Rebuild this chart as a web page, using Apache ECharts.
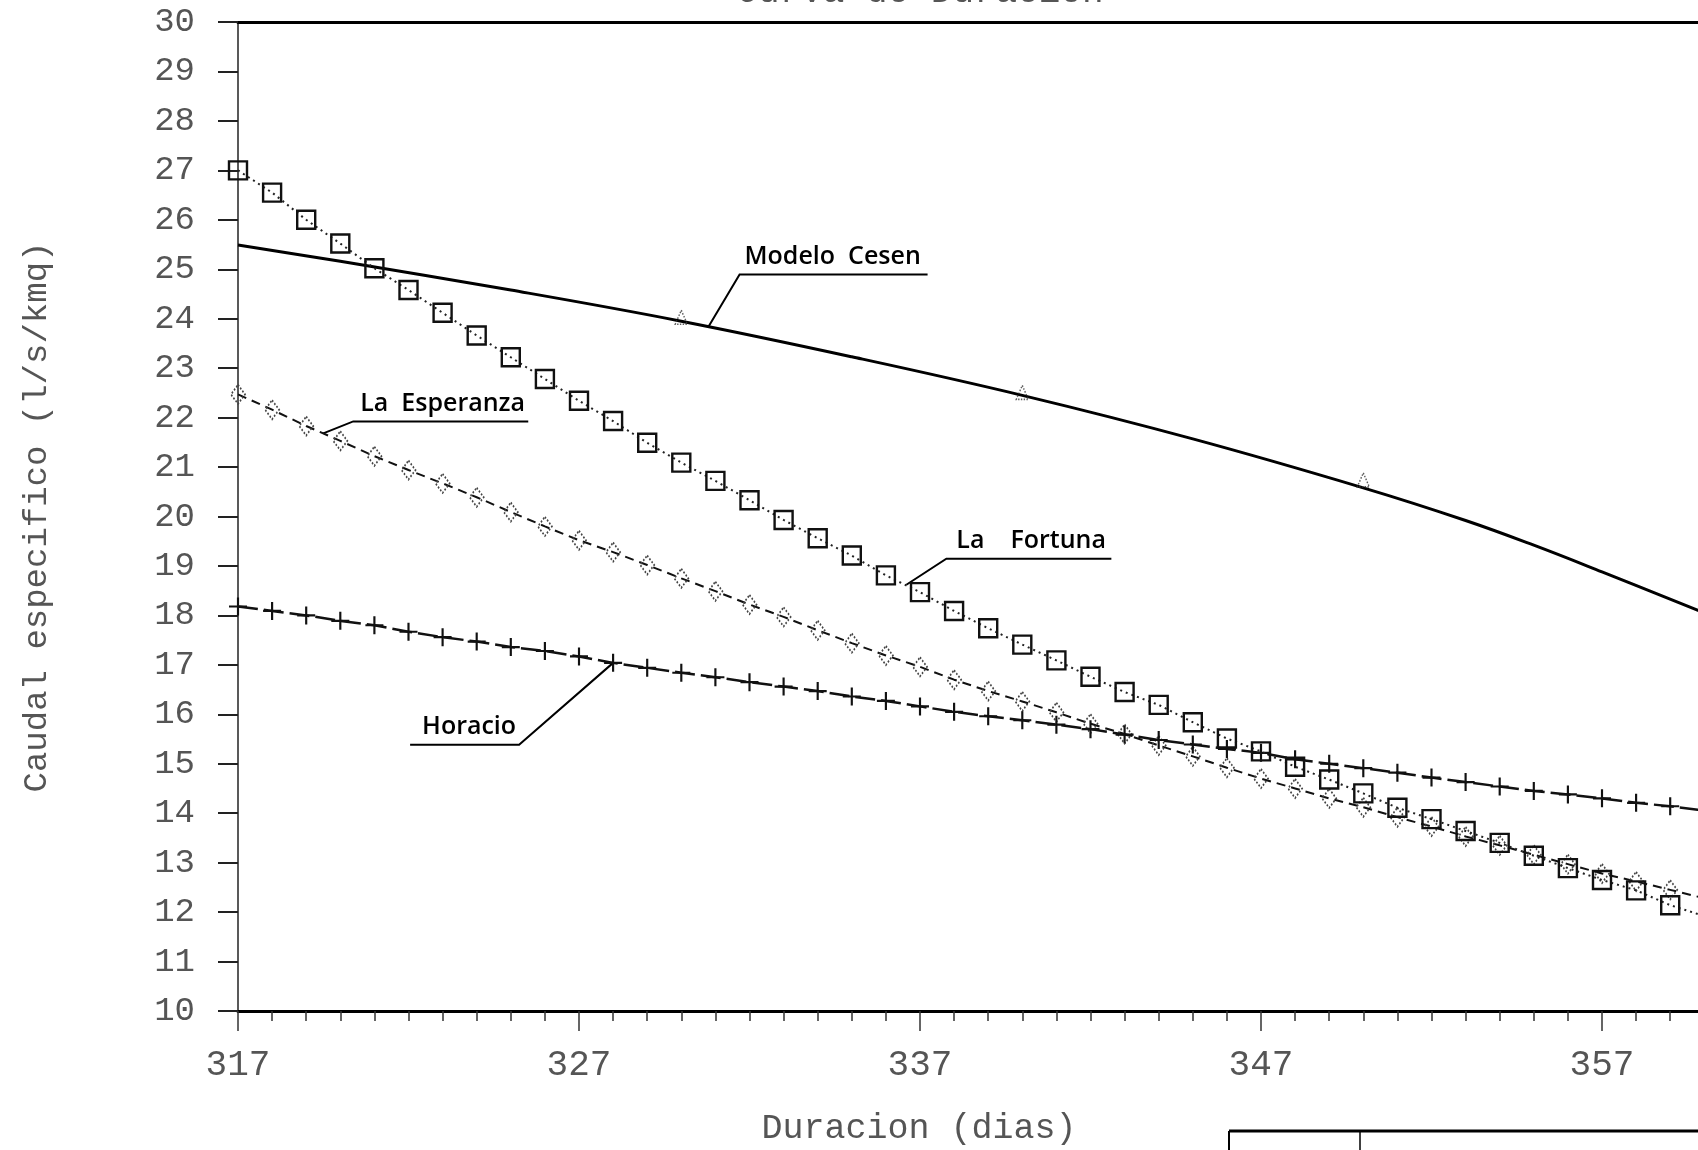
<!DOCTYPE html>
<html><head><meta charset="utf-8">
<script src="https://cdn.jsdelivr.net/npm/echarts@6/dist/echarts.min.js"></script>
<style>
html,body{margin:0;padding:0;overflow:hidden;background:#fff;width:1698px;height:1150px}
#c{width:1953px;height:1150px}
</style></head>
<body><div id="c"></div>
<script>
// ---- data ----
const X0 = 317;               // first day on the axis
const lastMarkedDay = 359;
const days = [317,318,319,320,321,322,323,324,325,326,327,328,329,330,331,332,333,334,335,336,337,338,339,340,341,342,343,344,345,346,347,348,349,350,351,352,353,354,355,356,357,358,359,360];
const fortuna = [27.00,26.55,26.00,25.52,25.02,24.58,24.12,23.66,23.22,22.78,22.34,21.93,21.49,21.09,20.72,20.33,19.93,19.56,19.21,18.81,18.47,18.09,17.74,17.41,17.09,16.76,16.45,16.19,15.84,15.51,15.25,14.94,14.68,14.40,14.11,13.88,13.64,13.40,13.14,12.89,12.65,12.44,12.14,11.92];
const esperanza = [22.47,22.16,21.83,21.53,21.22,20.94,20.67,20.39,20.09,19.80,19.52,19.28,19.02,18.75,18.49,18.22,17.97,17.70,17.44,17.19,16.96,16.70,16.47,16.26,16.04,15.81,15.60,15.37,15.15,14.92,14.70,14.50,14.30,14.12,13.92,13.73,13.53,13.35,13.16,12.97,12.78,12.62,12.45,12.28];
const horacio = [18.18,18.09,18.00,17.89,17.80,17.67,17.56,17.47,17.36,17.28,17.17,17.04,16.94,16.84,16.75,16.65,16.56,16.47,16.36,16.27,16.16,16.05,15.96,15.88,15.79,15.70,15.59,15.48,15.39,15.30,15.22,15.09,15.00,14.91,14.82,14.72,14.63,14.54,14.45,14.38,14.30,14.21,14.14,14.05];
const cesenDays = [317,320,325,330,335,340,345,350,353,355,357,360];
const cesenVals = [25.49,25.16,24.58,23.95,23.23,22.45,21.57,20.58,19.92,19.42,18.88,18.05];
const cesenMarkDays = [330,340,350];
const cesenMarkVals = [24.03,22.51,20.74];
const xTickDays = [317,327,337,347,357];
const yMin = 10, yMax = 30;
const labels = ['Modelo  Cesen','La  Esperanza','La    Fortuna','Horacio'];
const labelAnchorDays = [330.8,319.5,336.6,328];
const labelAnchorVals = [23.84,21.68,18.62,17.04];

// ---- layout / styles ----
const PLOT = "'Liberation Mono', monospace";
const ANNO = "'Open Sans', sans-serif";
const GREY = '#555';
const pxPerDay = 34.1, spanDays = 50;
const gridLeft = 238, gridTop = 22, gridH = 989;
const noteGeom = [
  {elbow:[31,-52], len:188, tdx:5},
  {elbow:[30,-12], len:175, tdx:7},
  {elbow:[40,-26], len:165, tdx:10},
  {elbow:[-94,82], len:-109, tdx:-97}
];

function pts(vals){
  return vals.map((v,i)=> days[i] > lastMarkedDay ? {value:[days[i]-X0, v], symbol:'none'} : [days[i]-X0, v]);
}
const crossPath = 'path://M0,4.4H10V5.6H0Z M4.4,0H5.6V10H4.4Z';

const chart = echarts.init(document.getElementById('c'), null, {renderer:'canvas'});
const option = {
  animation:false,
  backgroundColor:'#fff',
  grid:{left:gridLeft, top:gridTop, width:pxPerDay*spanDays, height:gridH, show:false},
  xAxis:[{
    type:'value', min:0, max:spanDays, interval:10,
    axisLine:{lineStyle:{color:'#000', width:3}},
    axisTick:{show:true, length:20, lineStyle:{color:'#333', width:1.5}},
    minorTick:{show:true, splitNumber:10, length:10, lineStyle:{color:'#333', width:1.5}},
    splitLine:{show:false},
    axisLabel:{margin:36, color:GREY, fontFamily:PLOT, fontSize:36,
      formatter:v=>{ const d=v+X0; return xTickDays.indexOf(d)>=0 ? String(d) : ''; }}
  },{
    type:'value', position:'top', min:0, max:spanDays,
    axisLine:{show:true, onZero:false, lineStyle:{color:'#000', width:3}},
    axisTick:{show:false}, axisLabel:{show:false}, splitLine:{show:false}
  }],
  yAxis:{
    type:'value', min:yMin, max:yMax, interval:1,
    axisLine:{show:true, lineStyle:{color:'#222', width:1.5}},
    axisTick:{show:true, length:20, lineStyle:{color:'#222', width:2}},
    splitLine:{show:false},
    axisLabel:{margin:43, color:GREY, fontFamily:PLOT, fontSize:34}
  },
  series:[
    {name:'Modelo Cesen', type:'line', smooth:0.4, showSymbol:false, z:2,
      data:cesenDays.map((d,i)=>[d-X0, cesenVals[i]]),
      lineStyle:{color:'#000', width:3}},
    {name:'Modelo Cesen marks', type:'scatter', symbol:'triangle', symbolSize:[12,14], z:3,
      data:cesenMarkDays.map((d,i)=>[d-X0, cesenMarkVals[i]]),
      itemStyle:{color:'rgba(255,255,255,0)', borderColor:'#333', borderWidth:1.5, borderType:'dotted'}},
    {name:'La Esperanza', type:'line', symbol:'diamond', symbolSize:[14,19], z:3,
      data:pts(esperanza),
      lineStyle:{color:'#111', width:2, type:[9,6]},
      itemStyle:{color:'rgba(255,255,255,0)', borderColor:'#444', borderWidth:1.8, borderType:'dotted'}},
    {name:'Horacio', type:'line', symbol:crossPath, symbolSize:18, z:4,
      data:pts(horacio),
      lineStyle:{color:'#111', width:2.5, type:[20,6]},
      itemStyle:{color:'#111'}},
    {name:'La Fortuna', type:'line', symbol:'rect', symbolSize:18, z:5,
      data:pts(fortuna),
      lineStyle:{color:'#222', width:2, type:[2,4]},
      itemStyle:{color:'rgba(255,255,255,0)', borderColor:'#111', borderWidth:2.4}}
  ]
};
chart.setOption(option);

// ---- texts, annotations, frame pieces ----
const g = [];
g.push({type:'text', x:920, y:10, style:{text:'Curva de Duracion', font:"36px "+PLOT, fill:GREY, align:'center', verticalAlign:'bottom'}});
g.push({type:'text', x:919, y:1129, style:{text:'Duracion (dias)', font:"35px "+PLOT, fill:GREY, align:'center', verticalAlign:'middle'}});
g.push({type:'text', x:37, y:517, rotation:Math.PI/2, style:{text:'Caudal especifico (l/s/kmq)', font:"34px "+PLOT, fill:GREY, align:'center', verticalAlign:'middle'}});
labels.forEach((t,i)=>{
  const a = chart.convertToPixel({gridIndex:0}, [labelAnchorDays[i]-X0, labelAnchorVals[i]]);
  const ng = noteGeom[i];
  const ex = a[0]+ng.elbow[0], ey = a[1]+ng.elbow[1];
  g.push({type:'polyline', shape:{points:[[a[0],a[1]],[ex,ey],[ex+ng.len,ey]]}, style:{stroke:'#000', lineWidth:2, fill:null}});
  g.push({type:'text', x:ex+ng.tdx, y:ey-18, style:{text:t, font:"600 25px "+ANNO, fill:'#000', align:'left', verticalAlign:'middle'}});
});
g.push({type:'line', shape:{x1:1229,y1:1131,x2:1698,y2:1131}, style:{stroke:'#000', lineWidth:3}});
g.push({type:'line', shape:{x1:1229,y1:1131,x2:1229,y2:1150}, style:{stroke:'#000', lineWidth:2}});
g.push({type:'line', shape:{x1:1360,y1:1131,x2:1360,y2:1150}, style:{stroke:'#000', lineWidth:1.5}});
chart.setOption({graphic:g});
</script>
</body></html>
